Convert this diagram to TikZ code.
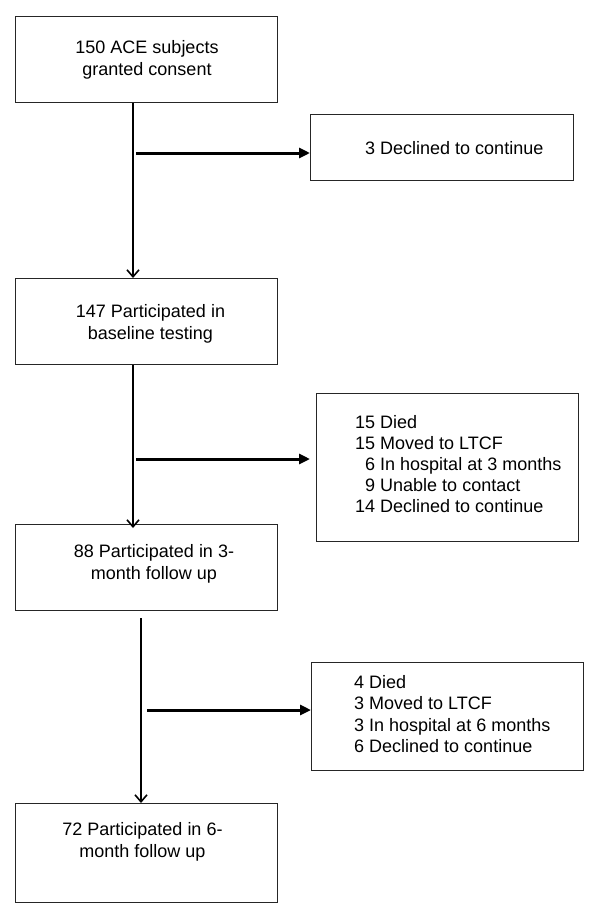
\documentclass[tikz,border=0pt]{standalone}
\usepackage{fontspec}
\setmainfont{Liberation Sans}
\usetikzlibrary{arrows.meta}
\begin{document}
\begin{tikzpicture}[x=1pt,y=-1pt,
  box/.style={draw=black!85, line width=1.2pt, anchor=north west, inner sep=0pt},
  txt/.style={font=\fontsize{18}{21.2}\selectfont, inner sep=0pt, text depth=0pt},
  varrow/.style={line width=2pt, -{Straight Barb[length=7pt,width=12pt,line width=1.6pt]}},
  harrow/.style={line width=3pt, -{Triangle[length=11pt,width=10pt]}}]
\useasboundingbox (0,0) rectangle (600,918);
% main column boxes
\node[box, minimum width=262pt, minimum height=86pt] (b1) at (15,16) {};
\node[box, minimum width=262pt, minimum height=86pt] (b2) at (15,278) {};
\node[box, minimum width=262pt, minimum height=86pt] (b3) at (15,524) {};
\node[box, minimum width=262pt, minimum height=99pt] (b4) at (15,803) {};
% side boxes
\node[box, minimum width=263pt, minimum height=66pt] (r1) at (310,114) {};
\node[box, minimum width=262pt, minimum height=148pt] (r2) at (316,393) {};
\node[box, minimum width=272pt, minimum height=108pt] (r3) at (311,662) {};
% texts
\node[txt, align=center] (t1) at (147,58) {150 ACE subjects\\granted consent};
\node[txt, align=center] (t2) at (150.5,322) {147 Participated in\\baseline testing};
\node[txt, align=center] (t3) at (154,562) {88 Participated in 3-\\month follow up};
\node[txt, align=center] (t4) at (142.5,840) {72 Participated in 6-\\month follow up};
\node[txt, anchor=west] (s1) at (365,148) {3 Declined to continue};
\node[txt, anchor=west, align=left] (s2) at (355,464) {15 Died\\15 Moved to LTCF\\\phantom{1}6 In hospital at 3 months\\\phantom{1}9 Unable to contact\\14 Declined to continue};
\node[txt, anchor=west, align=left] (s3) at (354,714) {4 Died\\3 Moved to LTCF\\3 In hospital at 6 months\\6 Declined to continue};
% connector coordinates
\coordinate (v1) at (133,0);
\coordinate (v3) at (141,0);
\coordinate (h1) at (136,153);
\coordinate (h2) at (136,459);
\coordinate (h3) at (147,710);
\coordinate (e2) at (133,528);
\coordinate (s3start) at (141,618);
% vertical arrows
\draw[varrow] (b1.south -| v1) -- (b2.north -| v1);
\draw[varrow] (b2.south -| v1) -- (e2);
\draw[varrow] (s3start) -- (b4.north -| v3);
% horizontal arrows
\draw[harrow] (h1) -- (h1 -| r1.west);
\draw[harrow] (h2) -- (h2 -| r1.west);
\draw[harrow] (h3) -- (h3 -| r3.west);
\end{tikzpicture}
\end{document}
